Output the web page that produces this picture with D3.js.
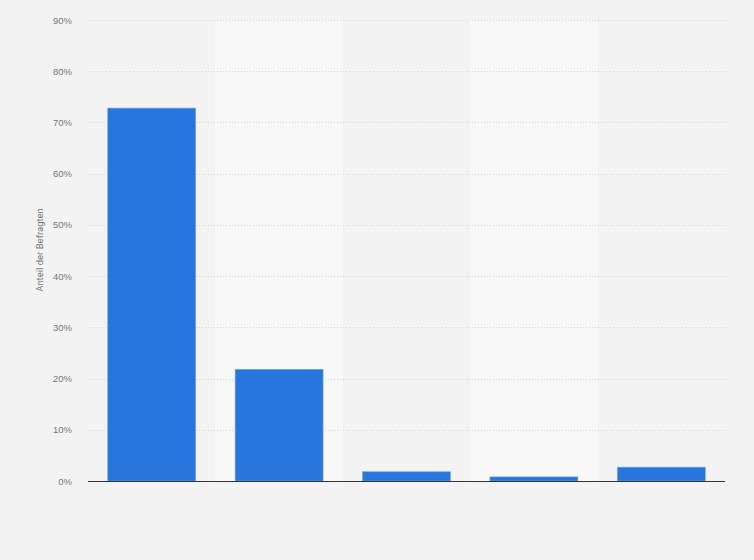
<!DOCTYPE html>
<html>
<head>
<meta charset="utf-8">
<script src="https://cdn.jsdelivr.net/npm/d3@7"></script>
<style>
  html, body { margin: 0; padding: 0; background: #f3f3f3; }
  svg { display: block; font-family: Roboto, "Liberation Sans", Arial, sans-serif; }
</style>
</head>
<body>
<div id="chart"></div>
<script>
// categories are not labelled in the source picture
const categories = ["Kategorie 1", "Kategorie 2", "Kategorie 3", "Kategorie 4", "Kategorie 5"];
const shares = [72.8, 21.8, 1.8, 0.8, 2.7];
const yTicks = [0, 10, 20, 30, 40, 50, 60, 70, 80, 90];

let width = 754, height = 560;
let margin = { top: 20, right: 29, bottom: 79, left: 88 };
let innerW = width - margin.left - margin.right;
let innerH = height - margin.top - margin.bottom;

let svg = d3.select("#chart")
    .append("svg")
    .attr("width", width)
    .attr("height", height);

svg.append("rect")
    .attr("width", width)
    .attr("height", height)
    .attr("fill", "#f3f3f3");

let g = svg.append("g")
    .attr("transform", `translate(${margin.left},${margin.top})`);

let band = d3.scaleBand().domain(categories).range([0, innerW]).padding(0);
let x = d3.scaleBand().domain(categories).range([0, innerW])
    .paddingInner(0.31).paddingOuter(0.155);
let y = d3.scaleLinear().domain([0, 90]).range([innerH, 0]);

// alternating column shading
g.selectAll(".colband")
    .data(categories)
    .enter()
    .append("rect")
    .attr("class", "colband")
    .attr("x", d => band(d))
    .attr("y", 0)
    .attr("width", band.bandwidth())
    .attr("height", innerH)
    .attr("fill", (d, i) => i % 2 === 1 ? "#f8f8f8" : "#f3f3f3");

// grid lines
g.selectAll(".grid")
    .data(yTicks.filter(t => t > 0))
    .enter()
    .append("line")
    .attr("class", "grid")
    .attr("x1", 0)
    .attr("x2", innerW)
    .attr("y1", d => Math.round(y(d)) + 0.5)
    .attr("y2", d => Math.round(y(d)) + 0.5)
    .attr("stroke", "#d4d4d4")
    .attr("stroke-width", 1)
    .attr("stroke-dasharray", "1,2");

// y axis labels
let yAxis = d3.axisLeft(y).tickValues(yTicks).tickSize(0).tickPadding(16)
    .tickFormat(d => d + "%");
let yAxisG = g.append("g").call(yAxis);
yAxisG.select(".domain").remove();
yAxisG.selectAll("text")
    .style("font-size", "9.5px")
    .attr("fill", "#777");

// bars
g.selectAll(".bar")
    .data(shares)
    .enter()
    .append("rect")
    .attr("class", "bar")
    .attr("x", (d, i) => x(categories[i]))
    .attr("y", d => y(d))
    .attr("width", x.bandwidth())
    .attr("height", d => innerH - y(d))
    .attr("fill", "#2876dd")
    .attr("stroke", "#6ea3ea")
    .attr("stroke-width", 0.6);

// baseline
g.append("line")
    .attr("x1", 0)
    .attr("x2", innerW)
    .attr("y1", innerH + 0.5)
    .attr("y2", innerH + 0.5)
    .attr("stroke", "#333")
    .attr("stroke-width", 1.2);

// y axis title
svg.append("text")
    .attr("transform", "rotate(-90)")
    .attr("x", -250)
    .attr("y", 43)
    .attr("text-anchor", "middle")
    .style("font-size", "9.5px")
    .attr("fill", "#777")
    .text("Anteil der Befragten");
</script>
</body>
</html>
